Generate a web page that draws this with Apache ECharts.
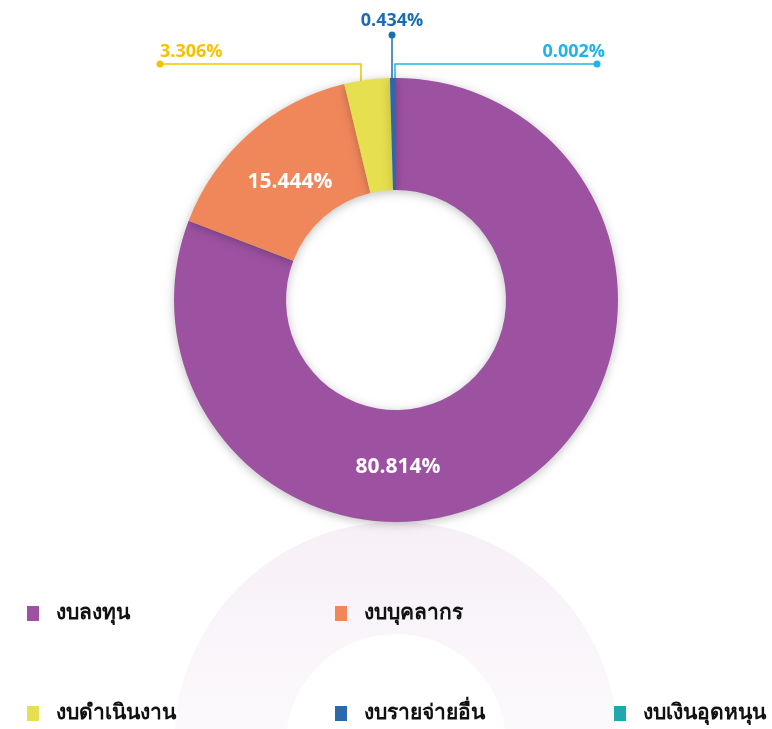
<!DOCTYPE html>
<html>
<head>
<meta charset="utf-8">
<script src="https://cdn.jsdelivr.net/npm/echarts@6/dist/echarts.min.js"></script>
<style>
  html, body { margin: 0; padding: 0; background: #fff; }
  #main { width: 772px; height: 729px; }
</style>
</head>
<body>
<div id="main"></div>
<script>
  const categories = ['งบลงทุน', 'งบบุคลากร', 'งบดำเนินงาน', 'งบรายจ่ายอื่น', 'งบเงินอุดหนุน'];
  const values = [80.814, 15.444, 3.306, 0.434, 0.002];
  const colors = ['#9c51a1', '#f0875a', '#e6df4e', '#2c68ae', '#1fa9ae'];
  const labelColors = ['#ffffff', '#ffffff', '#f6c200', '#1a6db4', '#1cb5e6'];

  // legend slots (icon left, top)
  const legendPos = [[27, 603], [335, 603], [27, 703], [335, 703], [614, 703]];
  // outer label line ends
  const lineEnds = { 2: [160, 64], 3: [392, 35], 4: [597, 64] };

  const FONT = '"Open Sans", "Noto Sans", sans-serif';

  function fade(hex) {
    const r = parseInt(hex.slice(1, 3), 16), g = parseInt(hex.slice(3, 5), 16), b = parseInt(hex.slice(5, 7), 16);
    return {
      type: 'linear', x: 0, y: 522, x2: 0, y2: 729, global: true,
      colorStops: [
        { offset: 0, color: `rgba(${r},${g},${b},0.09)` },
        { offset: 1, color: `rgba(${r},${g},${b},0.03)` },
      ],
    };
  }

  const mainData = categories.map((name, i) => {
    const outside = i >= 2;
    return {
      name,
      value: values[i],
      itemStyle: { color: colors[i] },
      label: {
        show: true,
        position: outside ? 'outside' : 'inside',
        color: labelColors[i],
        fontSize: outside ? 18 : 21,
        fontWeight: 'bold',
        fontFamily: FONT,
      },
      labelLine: { show: outside, lineStyle: { color: labelColors[i], width: 1.5 } },
    };
  });

  const reflectData = categories.map((name, i) => ({
    name,
    value: values[i],
    itemStyle: { color: fade(colors[i]) },
  }));

  const chart = echarts.init(document.getElementById('main'));

  chart.setOption({
    backgroundColor: '#ffffff',
    animation: false,
    color: colors,
    legend: categories.map((name, i) => ({
      data: [name],
      left: legendPos[i][0],
      top: legendPos[i][1],
      padding: 0,
      icon: 'rect',
      itemWidth: 12,
      itemHeight: 15,
      selectedMode: false,
      textStyle: {
        fontSize: 21,
        fontWeight: 'bold',
        color: '#111',
        fontFamily: FONT,
        padding: [0, 0, 0, 12],
      },
    })),
    graphic: Object.keys(lineEnds).map((k) => ({
      type: 'circle',
      shape: { cx: lineEnds[k][0], cy: lineEnds[k][1], r: 3.5 },
      style: { fill: labelColors[k] },
      z: 10,
    })),
    series: [
      {
        name: 'budget',
        type: 'pie',
        center: [396, 300],
        radius: [110, 222],
        startAngle: 90,
        clockwise: true,
        avoidLabelOverlap: false,
        itemStyle: {
          shadowBlur: 10,
          shadowColor: 'rgba(0,0,0,0.25)',
          shadowOffsetY: 2,
        },
        label: {
          formatter: (p) => p.value.toFixed(3) + '%',
        },
        labelLayout: (params) => {
          const i = params.dataIndex;
          if (i === 0) {
            return { x: 398, y: 467, align: 'center', verticalAlign: 'middle' };
          }
          if (i === 1) {
            return { x: 290, y: 182, align: 'center', verticalAlign: 'middle' };
          }
          const end = lineEnds[i];
          const p0 = params.labelLinePoints ? params.labelLinePoints[0] : [396, 80];
          if (i === 2) {
            const sx = p0[0] - 6;
            return {
              x: end[0], y: end[1] - 3, align: 'left', verticalAlign: 'bottom',
              labelLinePoints: [[sx, p0[1] + 14], [sx, end[1]], end],
            };
          }
          if (i === 3) {
            return {
              x: end[0], y: end[1] - 5, align: 'center', verticalAlign: 'bottom',
              labelLinePoints: [[end[0], p0[1] + 12], [end[0], end[1]], end],
            };
          }
          return {
            x: end[0] + 8, y: end[1] - 3, align: 'right', verticalAlign: 'bottom',
            labelLinePoints: [[395, p0[1] + 12], [395, end[1]], end],
          };
        },
        data: mainData,
        z: 2,
      },
      {
        name: 'reflection',
        type: 'pie',
        center: [396, 744],
        radius: [110, 222],
        startAngle: 270,
        clockwise: false,
        silent: true,
        label: { show: false },
        labelLine: { show: false },
        data: reflectData,
        z: 1,
      },
    ],
  });
</script>
</body>
</html>
